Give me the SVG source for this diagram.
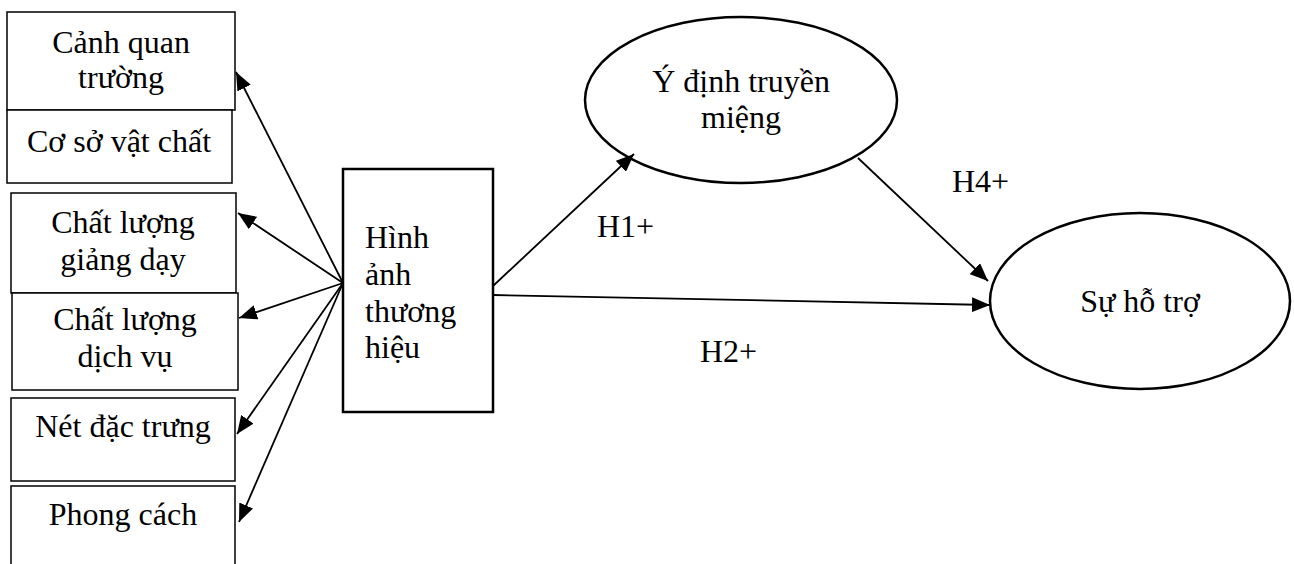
<svg xmlns="http://www.w3.org/2000/svg" width="1294" height="564" viewBox="0 0 1294 564">
  <style>
    .box { fill: #ffffff; stroke: #000000; stroke-width: 1.5; }
    .core { fill: #ffffff; stroke: #000000; stroke-width: 2.5; }
    .oval { fill: #ffffff; stroke: #000000; stroke-width: 2.5; }
    .lbl { font-family: "Liberation Serif", "Times New Roman", serif; font-size: 32px; fill: #000000; }
    .mid { text-anchor: middle; }
    .edge { stroke: #000000; stroke-width: 1.8; fill: none; marker-end: url(#head); }
  </style>
  <defs>
    <marker id="head" markerUnits="userSpaceOnUse" markerWidth="18" markerHeight="15" refX="18" refY="7.5" orient="auto">
      <path d="M0,0 L18,7.5 L0,15 z" fill="#000000"/>
    </marker>
  </defs>

  <rect width="1294" height="564" fill="#ffffff"/>

  <!-- component boxes on the left -->
  <g id="canh-quan">
    <rect class="box" x="7" y="12" width="228" height="98"/>
    <text class="lbl mid" x="121" y="53">Cảnh quan</text>
    <text class="lbl mid" x="121" y="88">trường</text>
  </g>
  <g id="co-so-vat-chat">
    <rect class="box" x="7" y="110" width="225" height="73"/>
    <text class="lbl mid" x="119" y="152">Cơ sở vật chất</text>
  </g>
  <g id="giang-day">
    <rect class="box" x="11" y="193" width="225" height="100"/>
    <text class="lbl mid" x="123" y="233">Chất lượng</text>
    <text class="lbl mid" x="123" y="270">giảng dạy</text>
  </g>
  <g id="dich-vu">
    <rect class="box" x="12" y="293" width="226" height="97"/>
    <text class="lbl mid" x="125" y="330">Chất lượng</text>
    <text class="lbl mid" x="125" y="367">dịch vụ</text>
  </g>
  <g id="net-dac-trung">
    <rect class="box" x="11" y="398" width="224" height="83"/>
    <text class="lbl mid" x="123" y="437">Nét đặc trưng</text>
  </g>
  <g id="phong-cach">
    <rect class="box" x="11" y="486" width="224" height="100"/>
    <text class="lbl mid" x="123" y="525">Phong cách</text>
  </g>

  <!-- brand image -->
  <g id="hinh-anh">
    <rect class="core" x="343" y="169" width="150" height="243"/>
    <text class="lbl" x="365" y="248">Hình</text>
    <text class="lbl" x="365" y="285">ảnh</text>
    <text class="lbl" x="365" y="322">thương</text>
    <text class="lbl" x="365" y="358">hiệu</text>
  </g>

  <!-- word-of-mouth intention -->
  <g id="y-dinh">
    <ellipse class="oval" cx="741" cy="100" rx="156" ry="83"/>
    <text class="lbl mid" x="741" y="92">Ý định truyền</text>
    <text class="lbl mid" x="741" y="128">miệng</text>
  </g>

  <!-- support -->
  <g id="su-ho-tro">
    <ellipse class="oval" cx="1140" cy="301" rx="150" ry="88"/>
    <text class="lbl mid" x="1140" y="312">Sự hỗ trợ</text>
  </g>

  <!-- connectors -->
  <g id="connectors">
    <line class="edge" x1="343" y1="283" x2="236" y2="72"/>
    <line class="edge" x1="343" y1="283" x2="238" y2="213"/>
    <line class="edge" x1="343" y1="283" x2="239" y2="318"/>
    <line class="edge" x1="343" y1="283" x2="237" y2="434"/>
    <line class="edge" x1="343" y1="283" x2="239" y2="522"/>
    <line class="edge" x1="493" y1="286" x2="634" y2="154"/>
    <line class="edge" x1="493" y1="295" x2="990" y2="305"/>
    <line class="edge" x1="858" y1="158" x2="988" y2="281"/>
    <text class="lbl" x="597" y="237">H1+</text>
    <text class="lbl" x="952" y="192">H4+</text>
    <text class="lbl" x="700" y="362">H2+</text>
  </g>
</svg>
